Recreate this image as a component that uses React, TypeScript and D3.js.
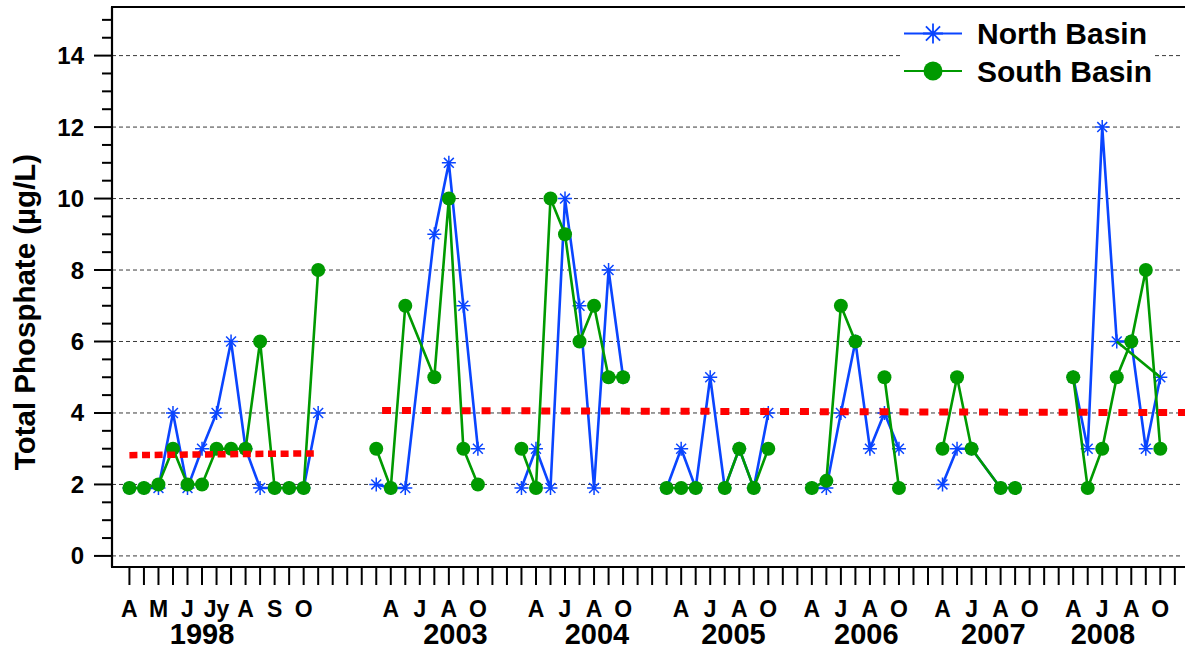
import React from 'react';
import * as d3 from 'd3';

// Sampling positions are given as month-tick indices along the x axis
// (1998 was sampled twice a month, later years monthly).
const samplePos1998 = [0, 1, 2, 3, 4, 5, 6, 7, 8, 9, 10, 11, 12, 13];
const north1998 = [1.9, 1.9, 1.9, 4, 1.9, 3, 4, 6, 3, 1.9, 1.9, 1.9, 1.9, 4];
const south1998 = [1.9, 1.9, 2, 3, 2, 2, 3, 3, 3, 6, 1.9, 1.9, 1.9, 8];

const samplePos2003 = [17, 18, 19, 21, 22, 23, 24];
const north2003 = [2, 1.9, 1.9, 9, 11, 7, 3];
const south2003 = [3, 1.9, 7, 5, 10, 3, 2];

const samplePos2004 = [27, 28, 29, 30, 31, 32, 33, 34];
const north2004 = [1.9, 3, 1.9, 10, 7, 1.9, 8, 5];
const south2004 = [3, 1.9, 10, 9, 6, 7, 5, 5];

const samplePos2005 = [37, 38, 39, 40, 41, 42, 43, 44];
const north2005 = [1.9, 3, 1.9, 5, 1.9, 3, 1.9, 4];
const south2005 = [1.9, 1.9, 1.9, null, 1.9, 3, 1.9, 3];

const samplePos2006 = [47, 48, 49, 50, 51, 52, 53];
const north2006 = [1.9, 1.9, 4, 6, 3, 4, 3];
const south2006 = [1.9, 2.1, 7, 6, null, 5, 1.9];

const samplePos2007 = [56, 57, 58, 60, 61];
const north2007 = [2, 3, 3, 1.9, 1.9];
const south2007 = [3, 5, 3, 1.9, 1.9];

const samplePos2008 = [65, 66, 67, 68, 69, 70, 71];
const north2008 = [5, 3, 12, 6, 6, 3, 5];
const south2008 = [5, 1.9, 3, 5, 6, 8, 3];

// extra South Basin connector drawn in 2008
const southLink2008: [number, number][] = [[68, 6], [71, 5]];

// mean / trend lines (tick index, value)
const mean1998: [number, number][] = [[0, 2.82], [13, 2.87]];
const meanLater: [number, number][] = [[17.4, 4.07], [72.7, 4.01]];

// axis ticks & labels
const tickCount = 73;
const monthLabels = [
  { i: 0, t: 'A' }, { i: 2, t: 'M' }, { i: 4, t: 'J' }, { i: 6, t: 'Jy' },
  { i: 8, t: 'A' }, { i: 10, t: 'S' }, { i: 12, t: 'O' },
  { i: 18, t: 'A' }, { i: 20, t: 'J' }, { i: 22, t: 'A' }, { i: 24, t: 'O' },
  { i: 28, t: 'A' }, { i: 30, t: 'J' }, { i: 32, t: 'A' }, { i: 34, t: 'O' },
  { i: 38, t: 'A' }, { i: 40, t: 'J' }, { i: 42, t: 'A' }, { i: 44, t: 'O' },
  { i: 47, t: 'A' }, { i: 49, t: 'J' }, { i: 51, t: 'A' }, { i: 53, t: 'O' },
  { i: 56, t: 'A' }, { i: 58, t: 'J' }, { i: 60, t: 'A' }, { i: 62, t: 'O' },
  { i: 65, t: 'A' }, { i: 67, t: 'J' }, { i: 69, t: 'A' }, { i: 71, t: 'O' },
];
const yearLabels = [
  { i: 5, t: '1998' }, { i: 22.45, t: '2003' }, { i: 32.2, t: '2004' },
  { i: 41.6, t: '2005' }, { i: 50.75, t: '2006' }, { i: 59.5, t: '2007' },
  { i: 67.05, t: '2008' },
];
const yMajorTicks = [0, 2, 4, 6, 8, 10, 12, 14];

const BLUE = '#0a45ff';
const GREEN = '#009a00';
const RED = '#ff0000';
const FONT = '"Liberation Sans", Arial, Helvetica, sans-serif';

type Pt = { p: number; v: number | null };

function zipYear(pos: number[], vals: (number | null)[]): Pt[] {
  return pos.map((p, k) => ({ p, v: vals[k] }));
}

const northSegments = [
  zipYear(samplePos1998, north1998), zipYear(samplePos2003, north2003),
  zipYear(samplePos2004, north2004), zipYear(samplePos2005, north2005),
  zipYear(samplePos2006, north2006), zipYear(samplePos2007, north2007),
  zipYear(samplePos2008, north2008),
];
const southSegments = [
  zipYear(samplePos1998, south1998), zipYear(samplePos2003, south2003),
  zipYear(samplePos2004, south2004), zipYear(samplePos2005, south2005),
  zipYear(samplePos2006, south2006), zipYear(samplePos2007, south2007),
  zipYear(samplePos2008, south2008),
];

function asteriskPath(cx: number, cy: number, r: number): string {
  const parts: string[] = [];
  for (const a of [0, 45, 90, 135]) {
    const rad = (a * Math.PI) / 180;
    const dx = Math.cos(rad) * r;
    const dy = Math.sin(rad) * r;
    parts.push(`M${cx - dx},${cy - dy}L${cx + dx},${cy + dy}`);
  }
  return parts.join('');
}

export default function App() {
  const left = 112;
  const right = 1185;
  const top = 7;
  const bottom = 567;

  const x = d3.scaleLinear().domain([-1.2, 72.7]).range([left, right]);
  const y = d3.scaleLinear().domain([-0.31, 15.36]).range([bottom, top]);

  const line = d3
    .line<Pt>()
    .defined((d) => d.v !== null)
    .x((d) => x(d.p))
    .y((d) => y(d.v as number));

  const pairLine = d3
    .line<[number, number]>()
    .x((d) => x(d[0]))
    .y((d) => y(d[1]));

  const minorTicks = d3.range(0, 15.01, 0.5).filter((v) => v % 2 !== 0);

  return (
    <svg
      width={1185}
      height={647}
      style={{ position: 'absolute', left: 0, top: 0, background: '#fff' }}
      fontFamily={FONT}
      fontWeight="bold"
    >
      <rect x={0} y={0} width={1185} height={647} fill="#fff" />
      <defs>
        <clipPath id="plotArea">
          <rect x={left} y={top} width={right - left} height={bottom - top} />
        </clipPath>
      </defs>

      {/* horizontal grid */}
      {yMajorTicks.map((v) => (
        <line
          key={`g${v}`}
          x1={left}
          x2={1181}
          y1={y(v)}
          y2={y(v)}
          stroke="#3a3a3a"
          strokeWidth={1}
          strokeDasharray="4 3"
        />
      ))}

      <g clipPath="url(#plotArea)">
        {/* North Basin */}
        {northSegments.map((seg, k) => (
          <path key={`nl${k}`} d={line(seg) || ''} fill="none" stroke={BLUE} strokeWidth={2.6} />
        ))}
        {northSegments.flat().filter((d) => d.v !== null).map((d, k) => (
          <path
            key={`nm${k}`}
            d={asteriskPath(x(d.p), y(d.v as number), 7)}
            stroke={BLUE}
            strokeWidth={1.5}
            fill="none"
          />
        ))}

        {/* South Basin */}
        {southSegments.map((seg, k) => (
          <path key={`sl${k}`} d={line(seg) || ''} fill="none" stroke={GREEN} strokeWidth={2.6} />
        ))}
        <path d={pairLine(southLink2008) || ''} fill="none" stroke={GREEN} strokeWidth={2.6} />
        {southSegments.flat().filter((d) => d.v !== null).map((d, k) => (
          <circle key={`sm${k}`} cx={x(d.p)} cy={y(d.v as number)} r={7} fill={GREEN} />
        ))}

        {/* mean lines */}
        <path
          d={pairLine(mean1998) || ''}
          fill="none"
          stroke={RED}
          strokeWidth={6.5}
          strokeDasharray="8 4.6"
        />
        <path
          d={pairLine(meanLater) || ''}
          fill="none"
          stroke={RED}
          strokeWidth={7}
          strokeDasharray="9 10.9"
        />
      </g>

      {/* legend */}
      <rect x={900} y={12} width={252} height={82} fill="#fff" />
      <line x1={904} x2={962} y1={33.5} y2={33.5} stroke={BLUE} strokeWidth={2.2} />
      <path d={asteriskPath(933, 33.5, 10)} stroke={BLUE} strokeWidth={1.8} fill="none" />
      <text x={977} y={43.5} fontSize={30} fill="#000">North Basin</text>
      <line x1={904} x2={962} y1={71} y2={71} stroke={GREEN} strokeWidth={2.2} />
      <circle cx={933} cy={71} r={9.5} fill={GREEN} />
      <text x={977} y={81.5} fontSize={30} fill="#000">South Basin</text>

      {/* frame */}
      <line x1={left - 1} x2={right} y1={top} y2={top} stroke="#000" strokeWidth={2} />
      <line x1={left} x2={left} y1={top} y2={bottom} stroke="#000" strokeWidth={2.2} />
      <line x1={left - 1} x2={right} y1={bottom} y2={bottom} stroke="#000" strokeWidth={2.2} />

      {/* y axis */}
      {yMajorTicks.map((v) => (
        <g key={`yt${v}`}>
          <line x1={94} x2={left} y1={y(v)} y2={y(v)} stroke="#000" strokeWidth={2} />
          <text x={84} y={y(v) + 8.5} fontSize={24} textAnchor="end" fill="#000">
            {v}
          </text>
        </g>
      ))}
      {minorTicks.map((v) => (
        <line key={`ym${v}`} x1={102} x2={left} y1={y(v)} y2={y(v)} stroke="#000" strokeWidth={2} />
      ))}
      <text
        transform="translate(35, 312) rotate(-90)"
        fontSize={29.5}
        textAnchor="middle"
        fill="#000"
      >
        Total Phosphate (µg/L)
      </text>

      {/* x axis */}
      {d3.range(tickCount).map((i) => (
        <line key={`xt${i}`} x1={x(i)} x2={x(i)} y1={bottom} y2={585} stroke="#000" strokeWidth={2} />
      ))}
      {monthLabels.map((m, k) => (
        <text key={`ml${k}`} x={x(m.i)} y={617} fontSize={23} textAnchor="middle" fill="#000">
          {m.t}
        </text>
      ))}
      {yearLabels.map((yl) => (
        <text key={yl.t} x={x(yl.i)} y={644} fontSize={29} textAnchor="middle" fill="#000">
          {yl.t}
        </text>
      ))}
    </svg>
  );
}
